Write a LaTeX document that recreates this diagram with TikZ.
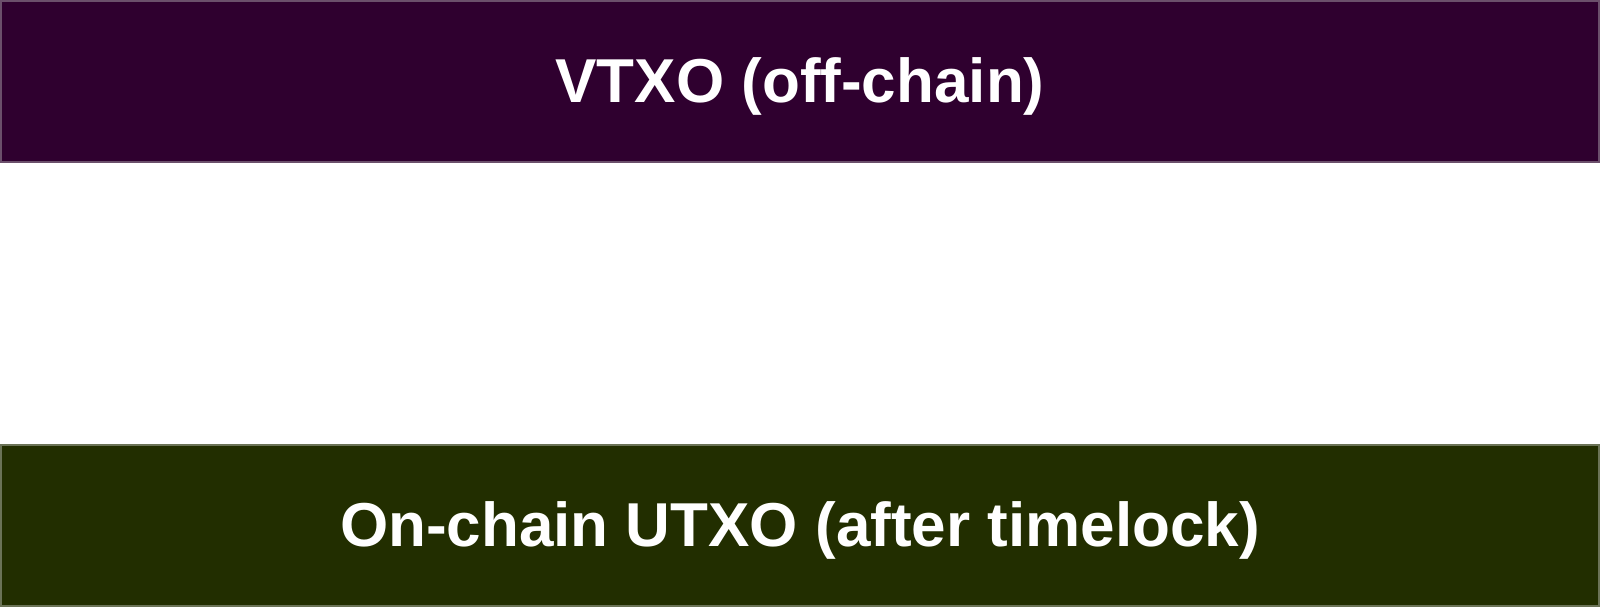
\documentclass[tikz,border=0pt]{standalone}
\usepackage{fontspec}
\setmainfont{Liberation Sans}
\definecolor{topfill}{HTML}{2F002F}
\definecolor{topline}{HTML}{6B4F6B}
\definecolor{botfill}{HTML}{222E00}
\definecolor{botline}{HTML}{6B7357}
\tikzset{
  band/.style={draw, line width=2pt, minimum width=1598pt, minimum height=161pt, inner sep=0pt, text height=42pt, text depth=0pt, text=white, font=\bfseries\fontsize{62}{70}\selectfont},
}
\begin{document}
\begin{tikzpicture}[x=1pt,y=-1pt]
\useasboundingbox (0,0) rectangle (1600,608);
\node[band, fill=topfill, draw=topline] (vtxo) at (800,81.5) {VTXO (off-chain)};
\node[band, fill=botfill, draw=botline] (utxo) at (800,525.5) {On-chain UTXO (after timelock)};
\end{tikzpicture}
\end{document}
